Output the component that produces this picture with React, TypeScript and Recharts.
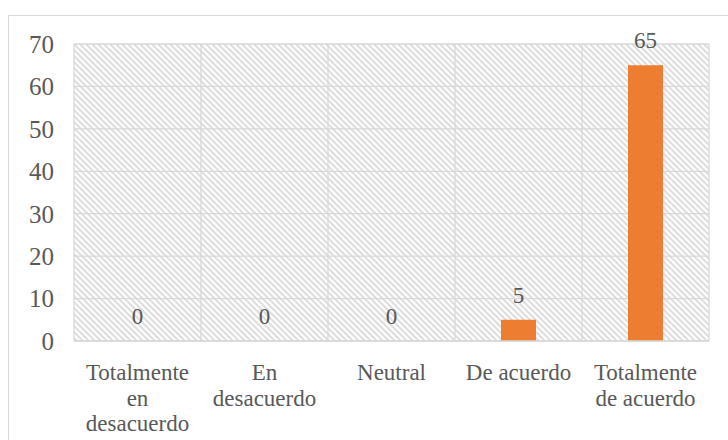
import { BarChart, Bar, XAxis, YAxis, CartesianGrid, ReferenceDot } from 'recharts';

const categories = [
  'Totalmente en desacuerdo',
  'En desacuerdo',
  'Neutral',
  'De acuerdo',
  'Totalmente de acuerdo',
];
const counts = [0, 0, 0, 5, 65];
const yTicks = [0, 10, 20, 30, 40, 50, 60, 70];

const data = categories.map((name, i) => ({ name, value: counts[i] }));

const FONT = '"Liberation Serif", "Times New Roman", serif';
const TEXT = '#595959';
const GRID = '#D9D9D9';
const BAR = '#ED7D31';

let ctx: CanvasRenderingContext2D | null = null;

// greedy word wrap, like Excel does for long category names
function wrap(label: string, max: number, size: number) {
  if (!ctx) ctx = document.createElement('canvas').getContext('2d');
  if (ctx) ctx.font = `${size}px "Liberation Serif"`;
  const lines: string[] = [];
  let cur = '';
  for (const w of label.split(' ')) {
    const next = cur ? cur + ' ' + w : w;
    if (cur && ctx && ctx.measureText(next).width > max) {
      lines.push(cur);
      cur = w;
    } else {
      cur = next;
    }
  }
  if (cur) lines.push(cur);
  return lines;
}

function CategoryTick({ x, y, payload }: any) {
  const lines = wrap(payload.value, 118, 23);
  return (
    <text x={x} y={y + 37} textAnchor="middle" fill={TEXT} fontFamily={FONT} fontSize={23}>
      {lines.map((l, i) => (
        <tspan key={i} x={x} dy={i === 0 ? 0 : 25.5}>
          {l}
        </tspan>
      ))}
    </text>
  );
}

export default function App() {
  return (
    <div
      style={{
        position: 'fixed',
        left: 0,
        top: 0,
        width: 728,
        height: 440,
        overflow: 'hidden',
        background: '#fff',
      }}
    >
      <div
        style={{
          position: 'absolute',
          left: 8,
          top: 15,
          width: 760,
          height: 460,
          border: `1px solid ${GRID}`,
        }}
      />
      <div style={{ position: 'absolute', left: 0, top: 0 }}>
        <BarChart
          width={728}
          height={440}
          data={data}
          margin={{ top: 44, right: 19, bottom: 39, left: 10 }}
        >
          <defs>
            <pattern id="hatch" patternUnits="userSpaceOnUse" width={6} height={6}>
              <rect width={6} height={6} fill="#fff" />
              <path d="M-1,-1 L7,7 M-1,5 L1,7 M5,-1 L7,1" stroke="#DEDEDE" strokeWidth={2} />
            </pattern>
          </defs>
          <CartesianGrid
            stroke={GRID}
            strokeWidth={1.3}
            fill="url(#hatch)"
            fillOpacity={1}
            verticalCoordinatesGenerator={({ offset }: any) =>
              categories.concat(['']).map((_, i) => offset.left + (i * offset.width) / categories.length)
            }
          />
          <XAxis
            dataKey="name"
            interval={0}
            height={60}
            tickSize={0}
            tickLine={false}
            axisLine={{ stroke: GRID, strokeWidth: 1.3 }}
            tick={<CategoryTick />}
          />
          <YAxis
            domain={[0, 70]}
            ticks={yTicks}
            width={64}
            tickSize={0}
            tickMargin={20}
            tickLine={false}
            axisLine={false}
            tick={{ fill: TEXT, fontFamily: FONT, fontSize: 25 }}
          />
          <Bar dataKey="value" fill={BAR} barSize={35} isAnimationActive={false} />
          {data.map((d) => (
            <ReferenceDot
              key={d.name}
              x={d.name}
              y={d.value}
              r={0}
              fill="none"
              stroke="none"
              label={{
                value: d.value,
                position: 'top',
                offset: 17,
                fill: TEXT,
                fontFamily: FONT,
                fontSize: 23,
              }}
            />
          ))}
        </BarChart>
      </div>
    </div>
  );
}
